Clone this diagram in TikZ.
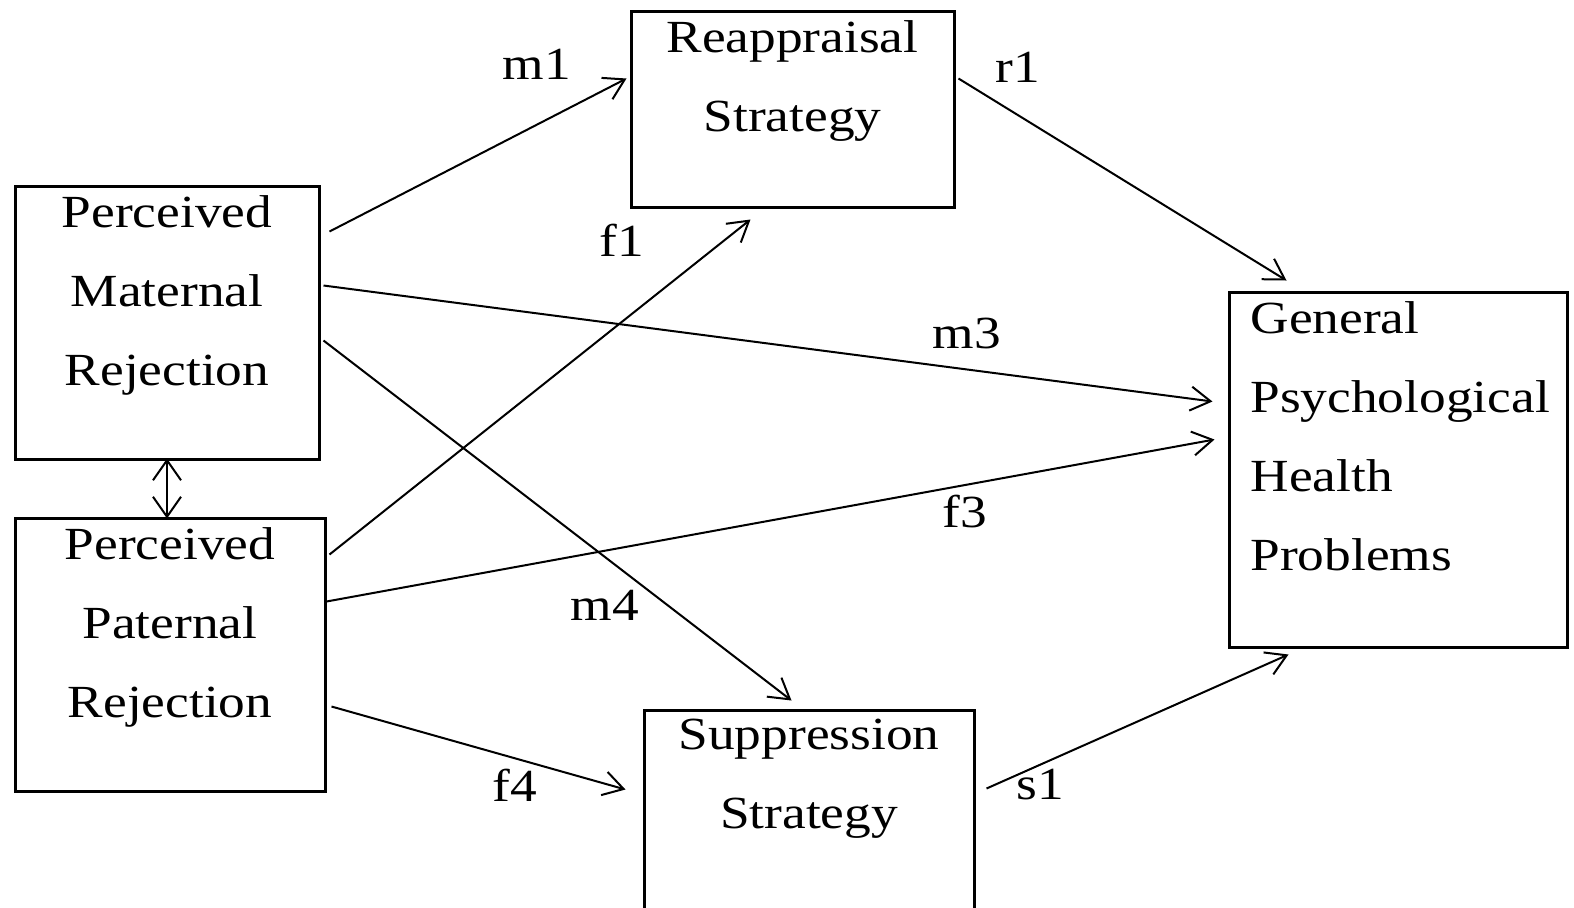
\documentclass[tikz,border=0pt]{standalone}
\usepackage{fontspec}
\setmainfont{Liberation Serif}[FakeStretch=1.16]
\usetikzlibrary{arrows.meta,positioning}

\tikzset{every picture/.style={line width=1pt}}
\tikzset{
	varbox/.style={draw, line width=1.5pt, inner sep=0pt},
	vartext/.style={inner sep=0pt, align=center, font=\fontsize{23}{39.5}\selectfont},
	coef/.style={inner sep=0pt, font=\fontsize{23}{28}\selectfont},
	effect/.style={-{Straight Barb[length=10pt,width=12pt]}, line width=1pt},
	corr/.style={{Straight Barb[length=10pt,width=14pt]}-{Straight Barb[length=10pt,width=14pt]}, line width=1pt}
}

\begin{document}
\begin{tikzpicture}[x=0.5pt,y=0.5pt,yscale=-1,xscale=1]
		\useasboundingbox (0,0) rectangle (1574,907);
		
		% Boxes
		\node [varbox, minimum width=152pt, minimum height=136.5pt] (mat) at (167,322.5) {};
		\node [varbox, minimum width=155pt, minimum height=136.5pt] (pat) at (170,654.5) {};
		\node [varbox, minimum width=161.5pt, minimum height=98pt] (rea) at (792.5,109) {};
		\node [varbox, minimum width=165pt, minimum height=110pt] (sup) at (809,820) {};
		\node [varbox, minimum width=169pt, minimum height=177.5pt] (gen) at (1398,469.5) {};
		
		% Box texts
		\node [vartext, anchor=north, below=5pt of mat.north] (mattxt) {Perceived\\Maternal\\Rejection};
		\node [vartext, anchor=north, below=5pt of pat.north] (pattxt) {Perceived\\Paternal\\Rejection};
		\node [vartext, anchor=north, below=5pt of rea.north] (reatxt) {Reappraisal\\Strategy};
		\node [vartext, anchor=north, below=5pt of sup.north] (suptxt) {Suppression\\Strategy};
		\node [vartext, align=left, anchor=north west, below right=5pt and 11pt of gen.north west] (gentxt) {General\\Psychological\\Health\\Problems};
		
		% Paths
		\draw [effect] ([shift={(9,47)}]mat.north east) -- ([shift={(-3,69)}]rea.north west) ;
		\draw [effect] ([shift={(3,101)}]mat.north east) -- ([shift={(-15,111)}]gen.north west) ;
		\draw [effect] ([shift={(3,156)}]mat.north east) -- ([shift={(149,-8)}]sup.north west) ;
		\draw [effect] ([shift={(3,38)}]pat.north east) -- ([shift={(121,11)}]rea.south west) ;
		\draw [effect] ([shift={(0,85)}]pat.north east) -- ([shift={(-13,149)}]gen.north west) ;
		\draw [effect] ([shift={(5,190)}]pat.north east) -- ([shift={(-17,81)}]sup.north west) ;
		\draw [effect] ([shift={(3,69)}]rea.north east) -- ([shift={(59,-10)}]gen.north west) ;
		\draw [effect] ([shift={(11,80)}]sup.north east) -- ([shift={(61,6)}]gen.south west) ;
		% Correlation
		\draw [corr] ([yshift=-1pt]mat.south) -- ([yshift=1pt]mat.south |- pat.north) ;
		
		% Coefficient labels
		\node [coef] (m1) at (537,64) {m1};
		\node [coef] (r1) at (1018,67) {r1};
		\node [coef] (f1) at (622,240) {f1};
		\node [coef] (m3) at (967,333) {m3};
		\node [coef] (f3) at (965,512) {f3};
		\node [coef] (m4) at (605,605) {m4};
		\node [coef] (f4) at (515,785) {f4};
		\node [coef] (s1) at (1040,785) {s1};
		
	\end{tikzpicture}
\end{document}
